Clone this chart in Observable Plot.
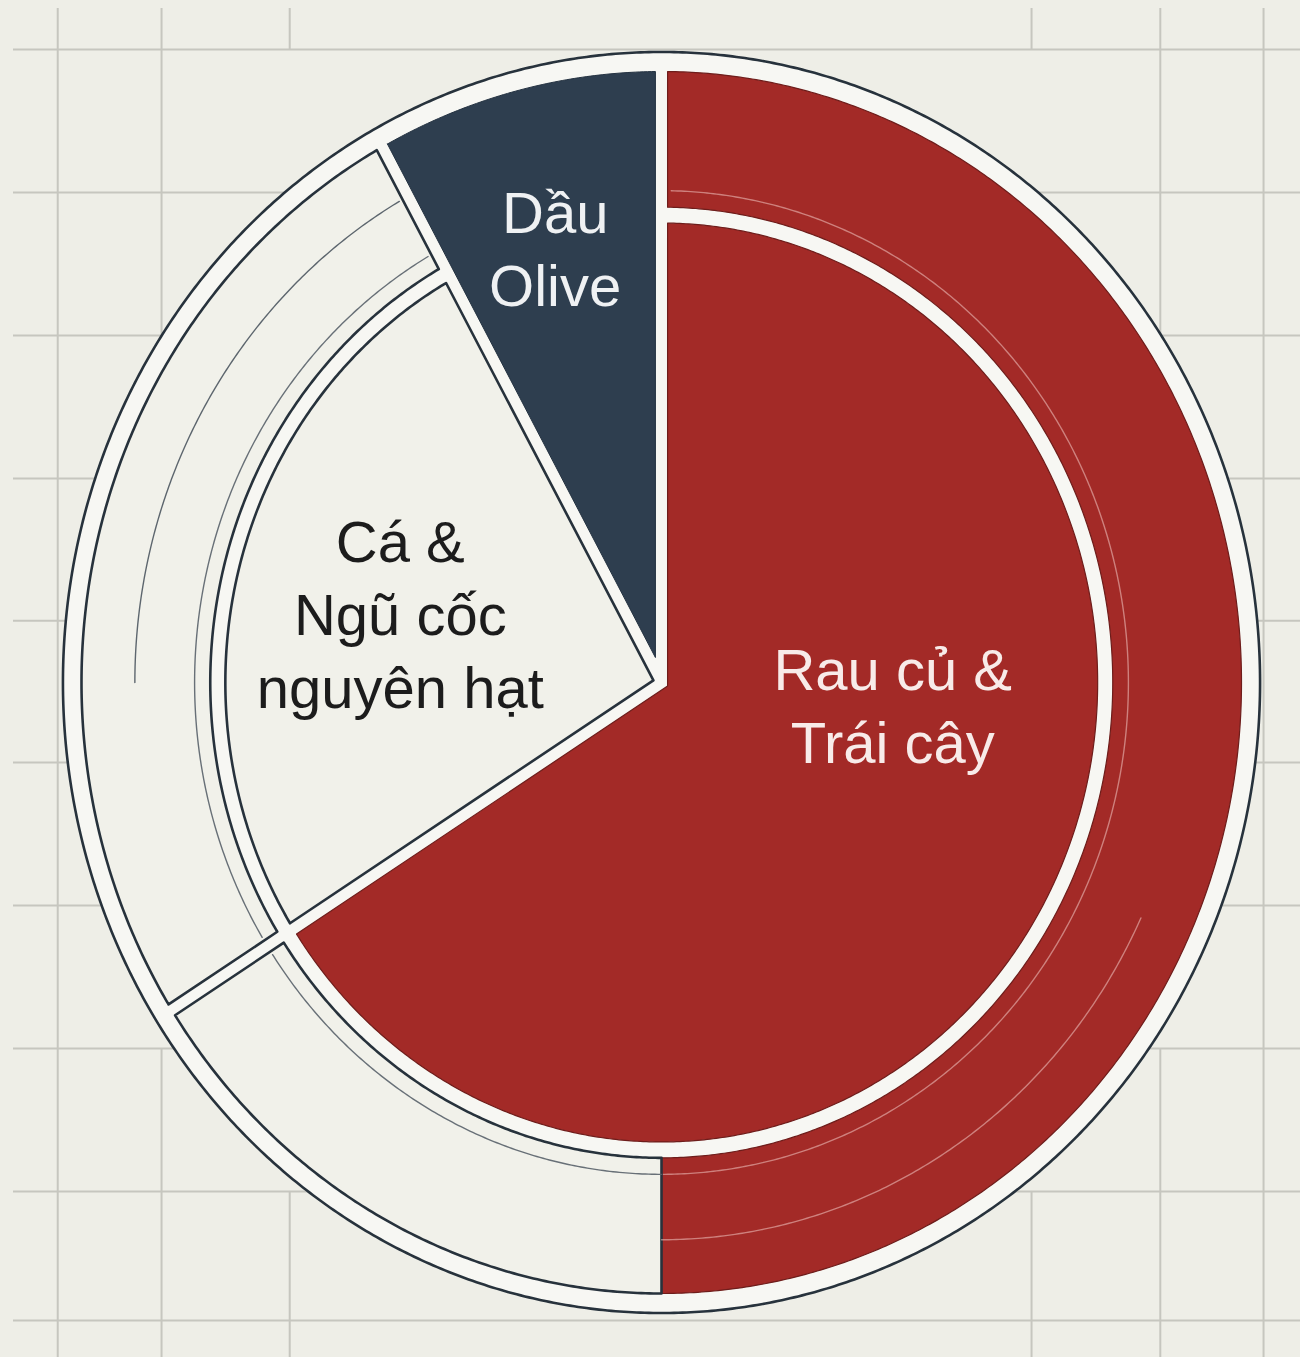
<!DOCTYPE html>
<html>
<head>
<meta charset="utf-8">
<script src="https://cdn.jsdelivr.net/npm/d3@7"></script>
<script src="https://cdn.jsdelivr.net/npm/@observablehq/plot@0.6"></script>
<style>
  html, body { margin: 0; padding: 0; background: #eeeee7; }
  #chart svg { display: block; }
</style>
</head>
<body>
<div id="chart"></div>
<script>
// ---------------- DATA ----------------
const categories = ["Rau củ & Trái cây", "Cá & Ngũ cốc nguyên hạt", "Dầu Olive"];
const innerValues = [66, 26, 8];
const labelLines = ["Rau củ &\nTrái cây", "Cá &\nNgũ cốc\nnguyên hạt", "Dầu\nOlive"];
// outer ring: segments going clockwise from the top
const outerSegments = ["Rau củ & Trái cây", "Rau củ & Trái cây (khác)", "Cá & Ngũ cốc nguyên hạt", "Dầu Olive"];
const outerValues = [50, 16, 26, 8];
// background grid tick positions (chart units)
const gridXTicks = [-1.041, -0.862, -0.641, 0.638, 0.860, 1.038];
const gridYTicks = [1.036, 0.802, 0.568, 0.334, 0.101, -0.131, -0.365, -0.599, -0.833, -1.044];

// ---------------- LAYOUT / STYLE ----------------
const W = 1300, H = 1357;
const CX = 661, CY = 682, RX = 580, RY = 611;
const R = {frame: 1.032, outer: 1.0, ringIn: 0.778, pie: 0.752, line: 0.805, deco: 0.908, gridMask: 1.028};
const GAP = 0.0105;
const BG = "#eeeee7", GAPFILL = "#f7f7f3", DARK = "#27323c", GRID = "#c6c6bf";
const styleOf = {
  red:   {fill: "#a32a27", stroke: "#6e1d1b", strokeWidth: 1.2, text: "#f8ebe9"},
  cream: {fill: "#f1f1ea", stroke: DARK, strokeWidth: 2.6, text: "#1c1c1c"},
  navy:  {fill: "#2e3e4f", stroke: "#243241", strokeWidth: 1, text: "#eff1f3"}
};
const innerKind = ["red", "cream", "navy"];
const outerKind = ["red", "cream", "cream", "navy"];
const labelAngleShift = [-24, 0, 0];
const labelRadius = [0.40, 0.465, 0.737];

// ---------------- GEOMETRY ----------------
const deg = Math.PI / 180;
function cumAngles(vals) {
  const tot = d3.sum(vals); let acc = 0;
  return vals.map(v => { const a0 = acc / tot * 360; acc += v; return [a0, acc / tot * 360]; });
}
const pt = (a, r) => ({x: r * Math.sin(a * deg), y: r * Math.cos(a * deg)});
function arc(a0, a1, r, step = 0.4) {
  const n = Math.max(2, Math.ceil(Math.abs(a1 - a0) / step));
  return d3.range(n + 1).map(i => pt(a0 + (a1 - a0) * i / n, r));
}
function sector(a0, a1, r0, r1, s, e) {
  const pts = [];
  pts.push(...arc(a0 + Math.asin(s / r1) / deg, a1 - Math.asin(e / r1) / deg, r1));
  if (r0 > 0) {
    pts.push(...arc(a1 - Math.asin(e / r0) / deg, a0 + Math.asin(s / r0) / deg, r0));
  } else {
    const A0 = a0 * deg, A1 = a1 * deg;
    const a = Math.cos(A0), b = -Math.sin(A0), c = -Math.cos(A1), d = Math.sin(A1);
    const det = a * d - b * c;
    pts.push({x: (s * d - b * e) / det, y: (a * e - c * s) / det});
  }
  pts.push(pts[0]);
  return pts;
}

const innerAngles = cumAngles(innerValues);
const outerAngles = cumAngles(outerValues);
const boundaries = innerAngles.map(d => d[0]).concat([360]);
const isBoundary = a => boundaries.some(b => Math.abs(b - a) < 1e-6);
const gapAt = a => isBoundary(a) ? GAP : 0;

const xDomain = [-CX / RX, (W - CX) / RX];
const yDomain = [-(H - CY) / RY, CY / RY];
const gridTop = (CY - 8) / RY, gridLeft = (13 - CX) / RX;

// vertical grid segments: cells touched by the disk are left empty (snap outward to grid rows)
const vSegments = [];
gridXTicks.forEach(x => {
  const rm = R.gridMask;
  if (Math.abs(x) >= rm) { vSegments.push({x, y1: gridTop, y2: yDomain[0]}); return; }
  const yc = Math.sqrt(rm * rm - x * x);
  const above = gridYTicks.filter(y => y >= yc);
  const below = gridYTicks.filter(y => y <= -yc);
  if (above.length) vSegments.push({x, y1: gridTop, y2: d3.min(above)});
  if (below.length) vSegments.push({x, y1: d3.max(below), y2: yDomain[0]});
});

const marks = [];
// grid
marks.push(Plot.ruleY(gridYTicks, {y: d => d, x1: gridLeft, x2: xDomain[1], stroke: GRID, strokeWidth: 2}));
marks.push(Plot.ruleX(vSegments, {x: "x", y1: "y1", y2: "y2", stroke: GRID, strokeWidth: 2}));
// frame disk
marks.push(Plot.line(arc(0, 360, R.frame), {x: "x", y: "y", fill: GAPFILL, stroke: DARK, strokeWidth: 2.6}));

// outer ring segments (navy drawn as full wedge)
outerAngles.forEach(([a0, a1], i) => {
  const k = outerKind[i];
  const st = styleOf[k];
  if (k === "navy") {
    marks.push(Plot.line(sector(a0, a1, 0, R.outer, gapAt(a0), gapAt(a1)),
      {x: "x", y: "y", fill: st.fill, stroke: st.stroke, strokeWidth: st.strokeWidth}));
    return;
  }
  marks.push(Plot.line(sector(a0, a1, R.ringIn, R.outer, gapAt(a0), gapAt(a1)),
    {x: "x", y: "y", fill: st.fill, stroke: st.stroke, strokeWidth: st.strokeWidth}));
  // thin concentric line inside the ring
  const s = gapAt(a0) * 1.6, e = gapAt(a1) * 1.6;
  marks.push(Plot.line(arc(a0 + Math.asin(s / R.line) / deg, a1 - Math.asin(e / R.line) / deg, R.line),
    {x: "x", y: "y", stroke: k === "red" ? "#f2c9c4" : "#59626a", strokeOpacity: k === "red" ? 0.55 : 0.9, strokeWidth: 1.4}));
});

// inner pie
innerAngles.forEach(([a0, a1], i) => {
  const k = innerKind[i];
  if (k === "navy") return;
  const st = styleOf[k];
  marks.push(Plot.line(sector(a0, a1, 0, R.pie, gapAt(a0), gapAt(a1)),
    {x: "x", y: "y", fill: st.fill, stroke: st.stroke, strokeWidth: st.strokeWidth}));
});

// decorative arcs in the outer ring
const creamEnd = innerAngles[1][1];
marks.push(Plot.line(arc(270, creamEnd - Math.asin(GAP * 1.6 / R.deco) / deg, R.deco),
  {x: "x", y: "y", stroke: "#5d666e", strokeWidth: 1.4}));
marks.push(Plot.line(arc(115, outerAngles[0][1], R.deco + 0.004),
  {x: "x", y: "y", stroke: "#f2c9c4", strokeOpacity: 0.55, strokeWidth: 1.4}));

// labels
const labels = innerAngles.map(([a0, a1], i) => {
  const p = pt((a0 + a1) / 2 + labelAngleShift[i], labelRadius[i]);
  return {x: p.x, y: p.y, text: labelLines[i], color: styleOf[innerKind[i]].text, name: categories[i]};
});
marks.push(Plot.text(labels, {
  x: "x", y: "y", text: "text", fill: "color",
  fontSize: 58, lineHeight: 1.26, textAnchor: "middle",
  fontFamily: "'Liberation Sans', Arial, sans-serif"
}));

const chart = Plot.plot({
  width: W, height: H,
  margin: 0,
  x: {domain: xDomain, range: [0, W], axis: null},
  y: {domain: yDomain, range: [H, 0], axis: null},
  color: {type: "identity"},
  style: {background: BG},
  marks
});
document.getElementById("chart").appendChild(chart);
</script>
</body>
</html>
